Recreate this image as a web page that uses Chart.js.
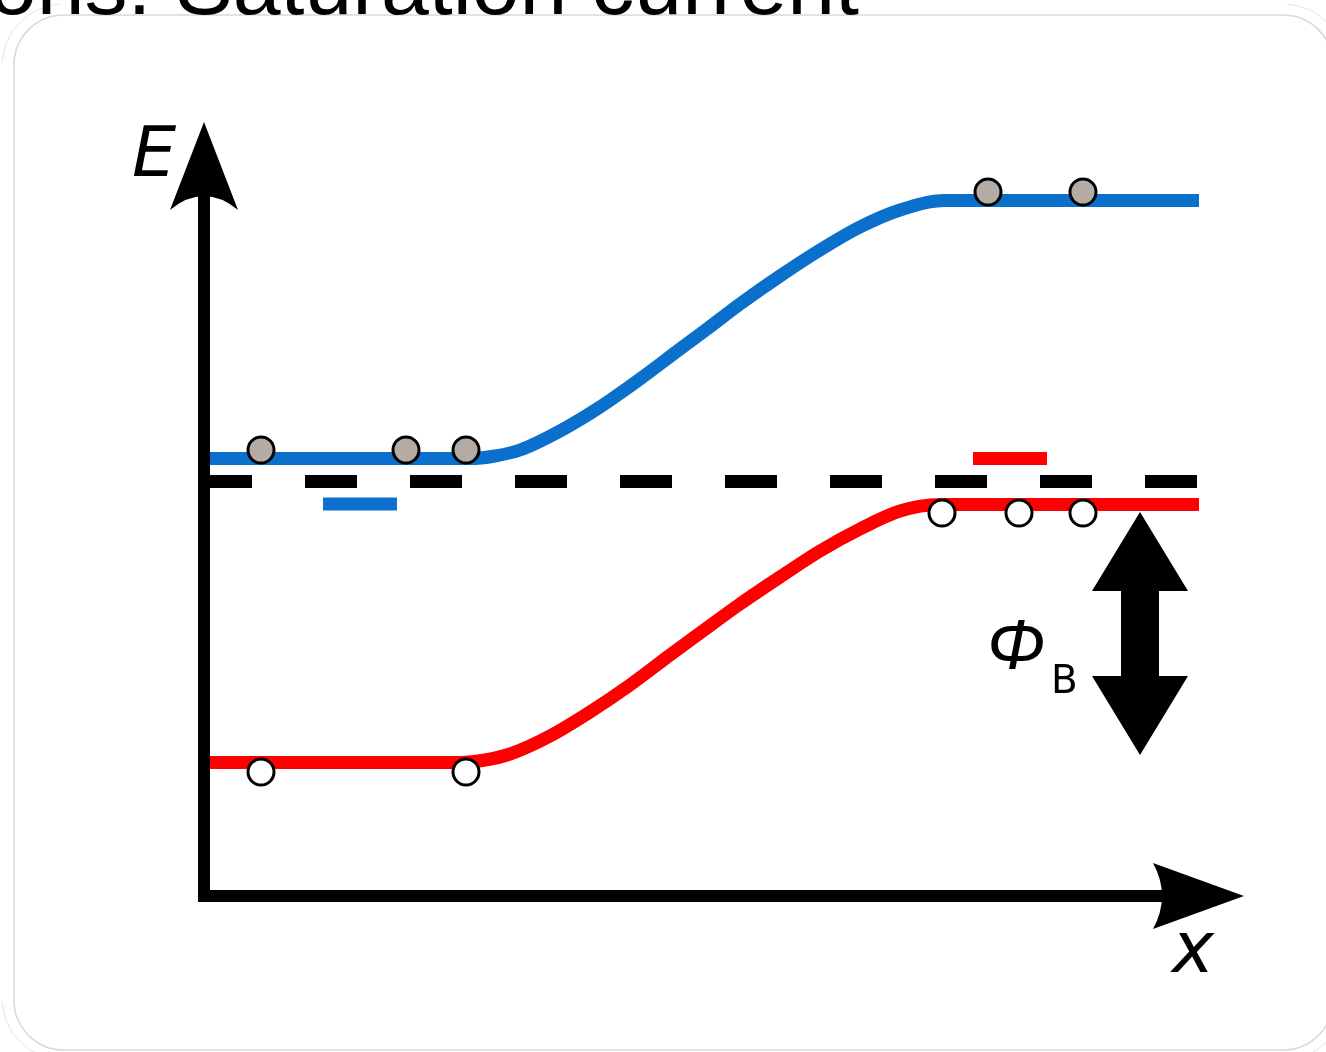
<!DOCTYPE html>
<html>
<head>
<meta charset="utf-8">
<script src="https://cdn.jsdelivr.net/npm/chart.js@4.4.1/dist/chart.umd.min.js"></script>
<style>
  html, body { margin: 0; padding: 0; background: #fff; }
  canvas { display: block; }
</style>
</head>
<body>
<canvas id="bandChart" width="1326" height="1052"></canvas>
<script>
// band edges (x along the junction, E energy)
const conductionX = [0, 266, 291, 316, 356, 396, 436, 476, 503, 536, 576, 616, 656, 696, 741, 995];
const conductionE = [437.5, 437.5, 440, 446, 465, 489, 517, 547, 567, 592, 620, 646, 669, 686, 695.5, 695.5];
const valenceX = [0, 256, 281, 306, 346, 386, 426, 466, 496, 536, 576, 616, 656, 696, 736, 995];
const valenceE = [133.5, 133.5, 136, 142, 160, 184, 211, 241, 263, 292, 319, 345, 367, 385, 391.5, 391.5];
const fermiX = [-4, 995];
const fermiE = [414.5, 414.5];
const blueLevelX = [119, 193];
const blueLevelE = [392, 392];
const redLevelX = [769, 843];
const redLevelE = [437.5, 437.5];
const electronX = [57, 202, 262, 784, 879];
const electronE = [446, 446, 446, 704, 704];
const holeX = [57, 262, 738, 815, 879];
const holeE = [124, 124, 383, 383, 383];
// axes and barrier arrow
const axisYX = [0, 0];
const axisYE = [-6, 700];
const axisXX = [-6, 958];
const axisXE = [0, 0];
const barrierX = 936;
const barrierE = [384, 141];

const pts = (xs, ys) => xs.map((x, i) => ({ x: x, y: ys[i] }));

const BLUE = '#0b70cc';
const RED = '#ff0000';

const drawing = {
    id: 'drawing',
    beforeDatasetsDraw(chart) {
        const c = chart.ctx;
        c.save();
        // slide frame
        c.strokeStyle = '#d9d9d9';
        c.lineWidth = 1.5;
        c.beginPath();
        c.roundRect(14, 15, 1319, 1035, 50);
        c.stroke();
        c.strokeStyle = '#e4e4e4';
        c.lineWidth = 1;
        c.beginPath(); c.arc(64, 66, 62, Math.PI * 1.02, Math.PI * 1.48); c.stroke();
        c.beginPath(); c.arc(1283, 66, 62, Math.PI * 1.52, Math.PI * 1.98); c.stroke();
        c.beginPath(); c.arc(1283, 998, 62, Math.PI * 0.02, Math.PI * 0.48); c.stroke();
        c.beginPath(); c.arc(64, 998, 62, Math.PI * 0.52, Math.PI * 0.98); c.stroke();
        // title, cut off by the top edge
        c.fillStyle = '#000';
        c.font = '86px "Liberation Sans", Arial, sans-serif';
        c.textAlign = 'right';
        c.textBaseline = 'alphabetic';
        c.fillText('ons: Saturation current', 859, 14);
        c.restore();
    },
    afterDatasetsDraw(chart) {
        const c = chart.ctx;
        const sx = chart.scales.x, sy = chart.scales.y;
        const X = v => sx.getPixelForValue(v);
        const Y = v => sy.getPixelForValue(v);
        c.save();
        c.fillStyle = '#000';
        // E axis arrowhead
        c.beginPath();
        c.moveTo(X(0), Y(774));
        c.lineTo(X(-34), Y(686));
        c.quadraticCurveTo(X(0), Y(714), X(34), Y(686));
        c.closePath();
        c.fill();
        // x axis arrowhead
        c.beginPath();
        c.moveTo(X(1040), Y(0));
        c.lineTo(X(949), Y(33));
        c.quadraticCurveTo(X(967), Y(0), X(949), Y(-33));
        c.closePath();
        c.fill();
        // barrier double arrow
        const top = barrierE[0], bot = barrierE[1];
        c.beginPath();
        c.moveTo(X(barrierX), Y(top));
        c.lineTo(X(barrierX + 48), Y(top - 79));
        c.lineTo(X(barrierX + 19), Y(top - 79));
        c.lineTo(X(barrierX + 19), Y(bot + 79));
        c.lineTo(X(barrierX + 48), Y(bot + 79));
        c.lineTo(X(barrierX), Y(bot));
        c.lineTo(X(barrierX - 48), Y(bot + 79));
        c.lineTo(X(barrierX - 19), Y(bot + 79));
        c.lineTo(X(barrierX - 19), Y(top - 79));
        c.lineTo(X(barrierX - 48), Y(top - 79));
        c.closePath();
        c.fill();
        // labels
        c.textAlign = 'left';
        c.textBaseline = 'alphabetic';
        c.font = 'oblique 70px "DejaVu Sans", sans-serif';
        c.fillText('E', X(-72), Y(720));
        c.font = 'italic 70px "Liberation Sans", sans-serif';
        c.fillText('\u03A6', X(783), Y(227));
        c.font = 'oblique 71px "DejaVu Sans", sans-serif';
        c.fillText('x', X(968), Y(-76));
        c.font = '39px "DejaVu Sans", sans-serif';
        c.fillText('B', X(847), Y(203));
        c.restore();
    }
};

const lineStyle = (color, width) => ({
    borderColor: color,
    borderWidth: width,
    pointRadius: 0,
    fill: false,
    borderCapStyle: 'butt'
});

new Chart(document.getElementById('bandChart'), {
    type: 'line',
    data: {
        datasets: [
            Object.assign({ data: pts(electronX, electronE), showLine: false, pointRadius: 13,
                pointBackgroundColor: '#b4aca4', pointBorderColor: '#000', pointBorderWidth: 3, order: 0 }),
            Object.assign({ data: pts(holeX, holeE), showLine: false, pointRadius: 13,
                pointBackgroundColor: '#fff', pointBorderColor: '#000', pointBorderWidth: 3, order: 0 }),
            Object.assign(lineStyle('#000', 12), { data: pts(axisYX, axisYE), order: 1 }),
            Object.assign(lineStyle('#000', 12), { data: pts(axisXX, axisXE), order: 1 }),
            Object.assign(lineStyle(BLUE, 13), { data: pts(conductionX, conductionE), cubicInterpolationMode: 'monotone', order: 2 }),
            Object.assign(lineStyle(RED, 13), { data: pts(valenceX, valenceE), cubicInterpolationMode: 'monotone', order: 2 }),
            Object.assign(lineStyle('#000', 13), { data: pts(fermiX, fermiE), borderDash: [52, 53], order: 3 }),
            Object.assign(lineStyle(BLUE, 13), { data: pts(blueLevelX, blueLevelE), order: 3 }),
            Object.assign(lineStyle(RED, 13), { data: pts(redLevelX, redLevelE), order: 3 })
        ]
    },
    options: {
        responsive: false,
        animation: false,
        layout: { padding: 0, autoPadding: false },
        scales: {
            x: { type: 'linear', min: -204, max: 1122, display: false },
            y: { type: 'linear', min: -156, max: 896, display: false }
        },
        plugins: {
            legend: { display: false },
            tooltip: { enabled: false },
            title: { display: false }
        }
    },
    plugins: [drawing]
});
</script>
</body>
</html>
